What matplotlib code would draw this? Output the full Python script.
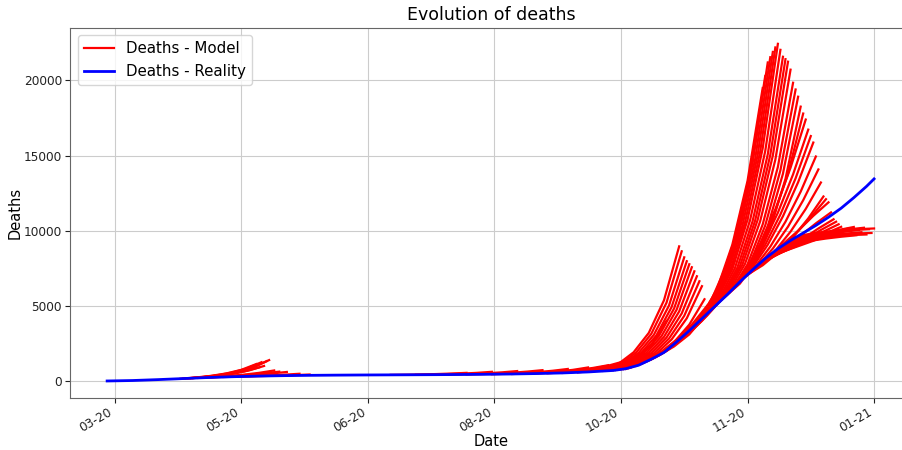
import numpy as np
import pandas as pd
import matplotlib
matplotlib.use('Agg')
import matplotlib.pyplot as plt
import matplotlib.dates as mdates

# day 0 of the series
first_day = pd.Timestamp('2020-03-13')

# Reality: cumulative deaths (day offset from first_day)
reality_day = [0, 10, 20, 30, 40, 50, 60, 70, 80, 90, 100, 110, 120, 130, 140, 150,
               160, 170, 180, 190, 200, 205, 210, 215, 220, 225, 230, 235, 240, 245,
               250, 255, 260, 265, 270, 275, 280, 285, 290, 295, 300, 303]
reality_deaths = [0, 30, 90, 160, 230, 285, 325, 355, 375, 388, 398, 405, 412, 420, 430, 445,
                  465, 495, 535, 600, 700, 820, 1050, 1450, 1900, 2600, 3350, 4150, 4950, 5750,
                  6600, 7400, 8150, 8800, 9350, 9850, 10350, 10900, 11500, 12200, 12950, 13450]

# Model runs: start day of each run, then values read every 6 days over 30 days
forecast_step = 6

early_start = [29, 31, 32, 33, 34, 30, 36, 38, 41, 46, 50]
early_values = [
    [153, 230, 340, 500, 740, 1130],
    [167, 250, 370, 550, 820, 1250],
    [174, 250, 350, 490, 700, 1000],
    [181, 270, 390, 580, 870, 1320],
    [188, 280, 410, 600, 910, 1390],
    [160, 225, 320, 450, 630, 900],
    [202, 260, 330, 420, 540, 700],
    [216, 270, 340, 420, 510, 620],
    [234, 280, 340, 410, 500, 600],
    [263, 290, 330, 370, 420, 480],
    [285, 305, 330, 360, 390, 430],
]

flat_start = [112, 122, 132, 142, 152, 160, 168, 174, 180, 186, 191]
flat_values = [
    [406, 418, 435, 460, 495, 540],
    [413, 430, 455, 490, 540, 610],
    [422, 442, 472, 515, 575, 660],
    [433, 458, 495, 550, 625, 720],
    [449, 480, 525, 590, 680, 800],
    [465, 500, 555, 630, 740, 900],
    [487, 540, 620, 730, 870, 1050],
    [510, 580, 680, 820, 1020, 1300],
    [535, 620, 750, 950, 1250, 1700],
    [570, 690, 880, 1200, 1700, 2500],
    [610, 780, 1070, 1550, 2400, 4000],
]

oct_start = [196, 197, 198, 199, 200, 201, 202, 203, 204, 205, 206]
oct_values = [
    [680, 1140, 1910, 3200, 5370, 8960],
    [690, 1145, 1895, 3140, 5210, 8630],
    [700, 1146, 1876, 3070, 5030, 8230],
    [710, 1152, 1868, 3030, 4915, 7970],
    [720, 1158, 1864, 3000, 4827, 7770],
    [735, 1172, 1868, 2977, 4746, 7570],
    [750, 1182, 1863, 2936, 4627, 7300],
    [770, 1197, 1860, 2890, 4490, 6970],
    [785, 1203, 1845, 2828, 4335, 6640],
    [800, 1209, 1827, 2760, 4170, 6310],
    [850, 1232, 1785, 2590, 3750, 5440],
]

mid_start = [207, 209, 211, 213, 215, 218, 221, 224, 227]
mid_values = [
    [900, 1350, 1950, 2750, 3750, 5000],
    [1000, 1450, 2050, 2850, 3800, 4900],
    [1130, 1600, 2250, 3050, 4000, 5100],
    [1290, 1800, 2500, 3350, 4350, 5500],
    [1450, 2050, 2800, 3700, 4800, 6000],
    [1700, 2300, 3100, 4300, 5900, 8000],
    [2000, 2800, 3900, 5500, 7800, 11000],
    [2450, 3300, 4500, 6400, 9300, 13800],
    [2950, 3800, 5100, 7300, 11000, 16800],
]

nov_start = [229, 230, 231, 232, 233, 234, 235, 236, 237, 238, 239, 240, 241, 242, 243, 244,
             245, 246, 247, 248, 249, 250, 251, 252, 253, 254, 255, 256, 257, 258, 259, 260, 261]
nov_values = [
    [3200, 4340, 6130, 9070, 13310, 19500],
    [3350, 4540, 6400, 9450, 13860, 20300],
    [3510, 4750, 6690, 9880, 14480, 21200],
    [3670, 4920, 6880, 10110, 14750, 21550],
    [3830, 5100, 7080, 10340, 15030, 21900],
    [3990, 5260, 7260, 10540, 15260, 22200],
    [4150, 5430, 7440, 10730, 15490, 22440],
    [4310, 5550, 7500, 10690, 15300, 22040],
    [4470, 5670, 7550, 10630, 15080, 21580],
    [4630, 5800, 7650, 10670, 15040, 21420],
    [4790, 5940, 7750, 10720, 15000, 21250],
    [4950, 6050, 7790, 10630, 14730, 20720],
    [5110, 6140, 7760, 10420, 14250, 19850],
    [5270, 6250, 7810, 10350, 14020, 19400],
    [5430, 6370, 7860, 10290, 13790, 18920],
    [5590, 6480, 7870, 10150, 13450, 18260],
    [5750, 6900, 8500, 10800, 13800, 17800],
    [5920, 7300, 9130, 11430, 14190, 17400],
    [6090, 7370, 9070, 11200, 13750, 16730],
    [6260, 7460, 9070, 11080, 13490, 16300],
    [6430, 7560, 9070, 10960, 13230, 15870],
    [6600, 7600, 8940, 10600, 12600, 14940],
    [6760, 7640, 8810, 10270, 12030, 14080],
    [6920, 7680, 8680, 9940, 11450, 13210],
    [7080, 7700, 8540, 9580, 10820, 12280],
    [7240, 7950, 8820, 9790, 10900, 12100],
    [7400, 8210, 9110, 10000, 10990, 11890],
    [7550, 8210, 8950, 9680, 10490, 11220],
    [7700, 8250, 8860, 9480, 10150, 10760],
    [7850, 8340, 8890, 9440, 10050, 10600],
    [8000, 8440, 8920, 9410, 9940, 10430],
    [8140, 8520, 8950, 9370, 9830, 10260],
    [8280, 8610, 8970, 9330, 9730, 10090],
]

late_start = [262, 263, 264, 265, 266, 267, 268, 269, 270, 271, 272, 273]
late_values = [
    [8350, 8850, 9250, 9560, 9800, 9980],
    [8500, 8980, 9380, 9700, 9950, 10150],
    [8680, 9000, 9270, 9480, 9660, 9800],
    [8800, 9200, 9530, 9800, 10050, 10250],
    [8900, 9130, 9330, 9480, 9600, 9700],
    [9020, 9330, 9580, 9780, 9930, 10050],
    [9130, 9360, 9550, 9700, 9810, 9900],
    [9240, 9520, 9760, 9950, 10090, 10200],
    [9350, 9480, 9580, 9650, 9710, 9750],
    [9450, 9680, 9850, 9970, 10050, 10100],
    [9550, 9640, 9720, 9780, 9820, 9850],
    [9650, 9830, 9960, 10050, 10110, 10150],
]

tick_dates = [pd.Timestamp('2020-03-16') + pd.Timedelta(days=50 * k) for k in range(7)]


def to_dates(days):
    return first_day + pd.to_timedelta(np.asarray(days, dtype=float), unit='D')


fig = plt.figure(figsize=(9.03, 4.5), dpi=100)
ax = fig.add_axes([0.078, 0.116, 0.932, 0.822])

groups = [(early_start, early_values), (flat_start, flat_values), (oct_start, oct_values),
          (mid_start, mid_values), (nov_start, nov_values), (late_start, late_values)]
label = 'Deaths - Model'
for starts, values in groups:
    for s, vals in zip(starts, values):
        days = s + forecast_step * np.arange(len(vals))
        ax.plot(to_dates(days), vals, color='red', lw=1.6, label=label)
        label = None

ax.plot(to_dates(reality_day), reality_deaths, color='blue', lw=2.0, label='Deaths - Reality')

ax.set_xlim(to_dates([-14.5])[0], to_dates([318])[0])
ax.set_ylim(-1120, 23500)
ax.set_yticks([0, 5000, 10000, 15000, 20000])
ax.set_xticks(tick_dates)
ax.xaxis.set_major_formatter(mdates.DateFormatter('%m-%y'))
plt.setp(ax.get_xticklabels(), rotation=30, ha='right')
ax.tick_params(labelsize=8.7, colors='#222222', pad=2.5)

ax.grid(True, color='#cccccc', lw=0.8)
for sp in ax.spines.values():
    sp.set_color('#666666')

ax.set_title('Evolution of deaths', fontsize=12.5)
ax.set_xlabel('Date', fontsize=10.5, labelpad=-1)
ax.set_ylabel('Deaths', fontsize=10.5, labelpad=1)
ax.legend(loc='upper left', fontsize=10.8)

fig.savefig('out.png', dpi=100)
